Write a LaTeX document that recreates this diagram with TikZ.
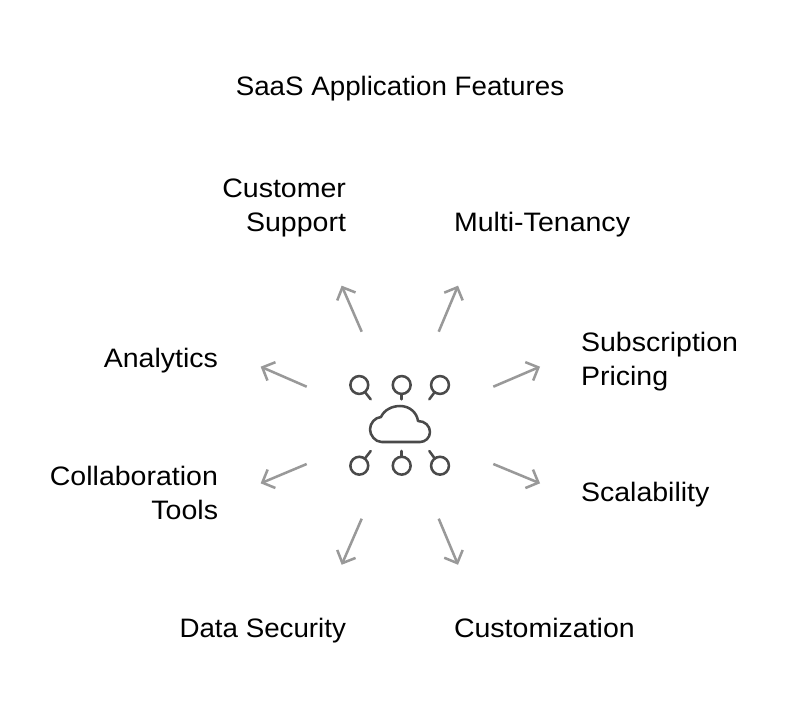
\documentclass[tikz,border=0pt]{standalone}
\usepackage{fontspec}
\setmainfont[FakeStretch=1.07]{Liberation Sans}
\newfontfamily\titlefont[FakeStretch=1.04]{Liberation Sans}
\usetikzlibrary{arrows.meta}
\definecolor{arrowgray}{HTML}{999999}
\definecolor{icongray}{HTML}{4A4A4A}
\definecolor{textblack}{HTML}{000000}
\pgfarrowsdeclare{vbarb}{vbarb}{\pgfarrowsleftextend{-7.5pt}\pgfarrowsrightextend{1.3pt}}{%
  \pgfsetdash{}{0pt}\pgfsetmiterjoin\pgfsetbuttcap
  \pgfpathmoveto{\pgfpoint{-7.5pt}{7.5pt}}%
  \pgfpathlineto{\pgfpointorigin}%
  \pgfpathlineto{\pgfpoint{-7.5pt}{-7.5pt}}%
  \pgfusepathqstroke}
\tikzset{
  x=0.75pt,y=-0.75pt,
  label text/.style={inner sep=0pt,outer sep=0pt,text=textblack,font=\fontsize{20pt}{25.5pt}\selectfont},
  left label/.style={label text,anchor=base east,align=right},
  right label/.style={label text,anchor=base west,align=left},
  spoke/.style={draw=arrowgray,line width=1.9pt,-vbarb},
  icon line/.style={draw=icongray,line width=1.9pt,line cap=round,line join=round},
  port/.style={circle,draw=icongray,line width=1.9pt,minimum size=13.4pt,inner sep=0pt,outer sep=0pt}
}
\begin{document}
\begin{tikzpicture}
\useasboundingbox (0,0) rectangle (800,715);
\node[label text,anchor=base,font=\fontsize{20pt}{25.5pt}\titlefont] (title) at (400,95) {SaaS Application Features};
\node[left label] (support) at (346,231) {Customer\\Support};
\node[right label] (tenancy) at (454,231) {Multi-Tenancy};
\node[right label] (pricing) at (581,385) {Subscription\\Pricing};
\node[left label] (analytics) at (218,367) {Analytics};
\node[left label] (collab) at (218,519) {Collaboration\\Tools};
\node[right label] (scal) at (581,501) {Scalability};
\node[left label,font=\fontsize{20pt}{25.5pt}\titlefont] (security) at (346,637) {Data Security};
\node[right label] (custom) at (454,637) {Customization};
\foreach \n/\ax/\ay/\bx/\by in {
  a/361.7/331.7/341.7/285.7, b/438.7/331.7/458/285.7,
  c/306.7/386.7/260.7/366.7, d/493.3/386.7/540/366.7,
  e/306.7/464/260.7/483.3, f/493.3/464/540/483.3,
  g/361.7/518.7/341.7/564.7, h/438.7/518.7/458/564.7}{
  \coordinate (\n0) at (\ax,\ay);
  \coordinate (\n1) at (\bx,\by);
  \draw[spoke] (\n0) -- (\n1);
}
\foreach \n/\cx/\cy/\bx/\by in {
  p/359.3/385/370.7/399.3, q/401.7/385/401.7/399.3, r/440/385/429.3/399.3,
  s/359.3/465.7/370.7/451, t/401.7/465.7/401.7/451, u/440/465.7/429.3/451}{
  \node[port] (\n) at (\cx,\cy) {};
  \coordinate (\n1) at (\bx,\by);
  \draw[icon line] (\n) -- (\n1);
}
\draw[icon line] (381.7,442) .. controls (375,442) and (370,435) .. (370,429.5)
  .. controls (370,423) and (375,417.5) .. (381,417)
  .. controls (384,410) and (392,406) .. (400,406)
  .. controls (410,406) and (417,413) .. (418,421)
  .. controls (425,421) and (430,426) .. (430,432)
  .. controls (430,438) and (425,442) .. (420,442) -- cycle;
\end{tikzpicture}
\end{document}
